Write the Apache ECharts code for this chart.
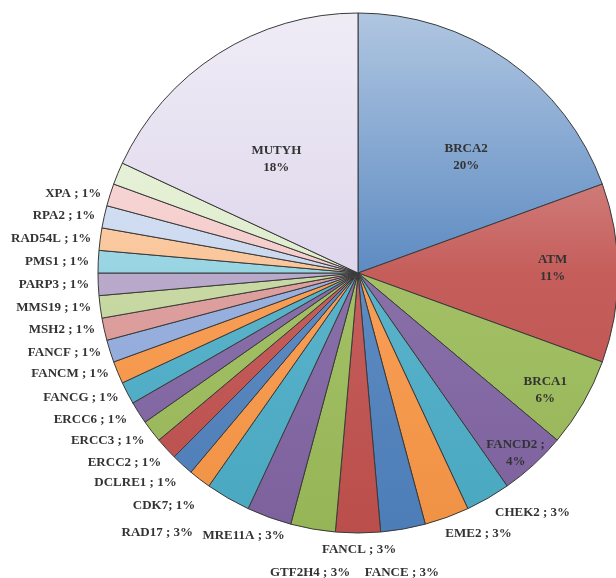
<!DOCTYPE html>
<html><head><meta charset="utf-8">
<script src="https://cdn.jsdelivr.net/npm/echarts@6/dist/echarts.min.js"></script>
<style>html,body{margin:0;padding:0;background:#fff}#c{width:616px;height:578px}</style>
</head><body><div id="c"></div>
<script>
// ---- data ----
const genes = ['BRCA2','ATM','BRCA1','FANCD2','CHEK2','EME2','FANCE','FANCL','GTF2H4','MRE11A','RAD17',
  'CDK7','DCLRE1','ERCC2','ERCC3','ERCC6','FANCG','FANCM','FANCF','MSH2','MMS19','PARP3','PMS1','RAD54L','RPA2','XPA','','MUTYH'];
const counts = [14,8,4,3,2,2,2,2,2,2,2,
  1,1,1,1,1,1,1,1,1,1,1,1,1,1,1,1,13];
const sliceLabels = ['BRCA2\n20%','ATM\n11%','BRCA1\n6%','FANCD2 ;\n4%','CHEK2 ; 3%','EME2 ; 3%','FANCE ; 3%','FANCL ; 3%','GTF2H4 ; 3%','MRE11A ; 3%','RAD17 ; 3%',
  'CDK7; 1%','DCLRE1 ; 1%','ERCC2 ; 1%','ERCC3 ; 1%','ERCC6 ; 1%','FANCG ; 1%','FANCM ; 1%','FANCF ; 1%','MSH2 ; 1%','MMS19 ; 1%','PARP3 ; 1%','PMS1 ; 1%','RAD54L ; 1%','RPA2 ; 1%','XPA ; 1%','','MUTYH\n18%'];

// ---- style ----
const sliceColors = ['#4F81BD','#C0504D','#9BBB59','#8064A2','#4BACC6','#F79646',
  '#4F81BD','#C0504D','#9BBB59','#8064A2','#4BACC6','#F79646',
  '#4F81BD','#C0504D','#9BBB59','#8064A2','#4BACC6','#F79646',
  '#8FAADC','#DB9896','#C3D69B','#B3A2C7','#8ED0E0','#FAC090',
  '#C5D5EE','#F3C6C5','#DCEAC8','#DCD4EA'];
const insideRadius = {BRCA2:0.6, ATM:0.76, BRCA1:0.86, FANCD2:0.92, MUTYH:0.58};
const labelNudge = {
  BRCA2:{dx:17,dy:14}, MUTYH:{dx:1,dy:16}, ATM:{dx:-6,dy:-5}, BRCA1:{dx:-9,dy:4}, FANCD2:{dx:-6,dy:2},
  CHEK2:{dy:11}, EME2:{dx:-8,dy:13}, FANCE:{dx:-44,dy:40}, FANCL:{dx:-41,dy:13},
  GTF2H4:{dx:43,dy:40}, MRE11A:{dx:22,dy:15}, RAD17:{dx:-28,dy:31},
  CDK7:{dx:3,dy:23}, DCLRE1:{dx:2,dy:15}, ERCC2:{dx:3,dy:11}, ERCC3:{dx:1,dy:7},
  ERCC6:{dx:-3,dy:5}, FANCG:{dy:3}
};
const pieCenter = [358, 273];
const pieRadius = 260;

function mix(hex, t) {
  const n = parseInt(hex.slice(1), 16);
  const r = n >> 16, g = (n >> 8) & 255, b = n & 255;
  const f = v => Math.round(v + (255 - v) * t);
  return 'rgb(' + f(r) + ',' + f(g) + ',' + f(b) + ')';
}
function dark(hex, t) {
  const n = parseInt(hex.slice(1), 16);
  const r = n >> 16, g = (n >> 8) & 255, b = n & 255;
  const f = v => Math.round(v * (1 - t));
  return 'rgb(' + f(r) + ',' + f(g) + ',' + f(b) + ')';
}

const total = counts.reduce((a, b) => a + b, 0);
const cum = [];
counts.reduce((a, v, i) => { cum[i] = a; return a + v; }, 0);

const data = genes.map((g, i) => {
  const c = sliceColors[i];
  const item = {
    name: g,
    value: counts[i],
    itemStyle: {
      color: {type:'linear', global:true,
        x:0, y:pieCenter[1] - pieRadius, x2:0, y2:pieCenter[1] + pieRadius,
        colorStops:[
          {offset:0, color:mix(c, 0.55)},
          {offset:0.5, color:mix(c, 0.08)},
          {offset:1, color:dark(c, 0.03)}]}
    }
  };
  if (insideRadius[g] != null) item.label = {position:'inside'};
  if (g === '') item.label = {show:false};
  return item;
});

const chart = echarts.init(document.getElementById('c'), null, {renderer:'canvas'});
chart.setOption({
  animation: false,
  backgroundColor: '#ffffff',
  series: [{
    type: 'pie',
    center: pieCenter,
    radius: pieRadius,
    startAngle: 90,
    clockwise: true,
    avoidLabelOverlap: false,
    data: data,
    itemStyle: {borderColor:'#3a3a3a', borderWidth:1},
    label: {
      show: true,
      position: 'outside',
      formatter: p => sliceLabels[p.dataIndex],
      fontFamily: 'Liberation Serif',
      fontWeight: 'bold',
      fontSize: 13,
      lineHeight: 17,
      color: '#333333'
    },
    labelLine: {show:false, length:4, length2:0},
    emphasis: {disabled:true},
    labelLayout: function (p) {
      const i = p.dataIndex;
      const g = genes[i];
      const n = labelNudge[g] || {};
      let dx = n.dx || 0, dy = n.dy || 0;
      if (insideRadius[g] != null) {
        const mid = (cum[i] + counts[i] / 2) / total * 2 * Math.PI;
        const d = (insideRadius[g] - 0.5) * pieRadius;
        dx += Math.sin(mid) * d;
        dy += -Math.cos(mid) * d;
      }
      return {dx: dx, dy: dy};
    }
  }]
});
</script>
</body></html>
